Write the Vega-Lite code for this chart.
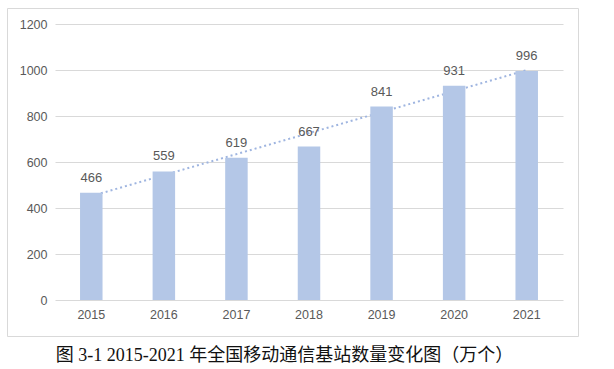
{
  "$schema": "https://vega.github.io/schema/vega-lite/v6.json",
  "autosize": "none",
  "padding": {"left": 7, "top": 8, "right": 36, "bottom": 33},
  "width": 571,
  "height": 328,
  "background": "white",
  "config": {
    "view": {"stroke": "#d9d9d9", "strokeWidth": 1},
    "font": "Liberation Sans"
  },
  "title": {
    "text": "图 3-1 2015-2021 年全国移动通信基站数量变化图（万个）",
    "orient": "bottom",
    "anchor": "middle",
    "offset": 11,
    "dx": -8,
    "font": "Liberation Serif, Noto Sans CJK SC",
    "fontSize": 18,
    "fontWeight": "normal",
    "color": "#111111"
  },
  "data": {
    "values": [
      {"year": 2015, "value": 466},
      {"year": 2016, "value": 559},
      {"year": 2017, "value": 619},
      {"year": 2018, "value": 667},
      {"year": 2019, "value": 841},
      {"year": 2020, "value": 931},
      {"year": 2021, "value": 996}
    ]
  },
  "encoding": {
    "x": {
      "field": "year",
      "type": "ordinal",
      "scale": {"domain": [2015, 2016, 2017, 2018, 2019, 2020, 2021], "range": [48, 556], "paddingInner": 0.69, "paddingOuter": 0.345},
      "axis": {
        "title": null,
        "orient": "bottom",
        "offset": -36,
        "labelPadding": 8,
        "labelAngle": 0,
        "ticks": false,
        "domain": false,
        "grid": false,
        "labelFontSize": 12.5,
        "labelColor": "#595959",
        "labelFont": "Liberation Sans"
      }
    },
    "y": {
      "field": "value",
      "type": "quantitative",
      "scale": {"domain": [0, 1200], "range": [292, 16], "nice": false, "zero": true},
      "axis": {
        "title": null,
        "values": [0, 200, 400, 600, 800, 1000, 1200],
        "format": "d",
        "offset": -48,
        "labelPadding": 8,
        "ticks": false,
        "domain": false,
        "grid": true,
        "gridColor": "#d9d9d9",
        "gridWidth": 1,
        "labelFontSize": 12.5,
        "labelColor": "#595959",
        "labelFont": "Liberation Sans"
      }
    }
  },
  "layer": [
    {
      "transform": [
        {"regression": "value", "on": "year", "method": "linear", "extent": [2015, 2021]}
      ],
      "mark": {"type": "line", "color": "#9fb5e0", "strokeWidth": 2, "strokeDash": [2, 3]},
      "encoding": {}
    },
    {
      "mark": {"type": "bar", "color": "#b4c7e7"}
    },
    {
      "mark": {"type": "text", "baseline": "alphabetic", "dy": -11, "fontSize": 13, "color": "#595959", "font": "Liberation Sans"},
      "encoding": {"text": {"field": "value", "type": "quantitative"}}
    }
  ]
}
